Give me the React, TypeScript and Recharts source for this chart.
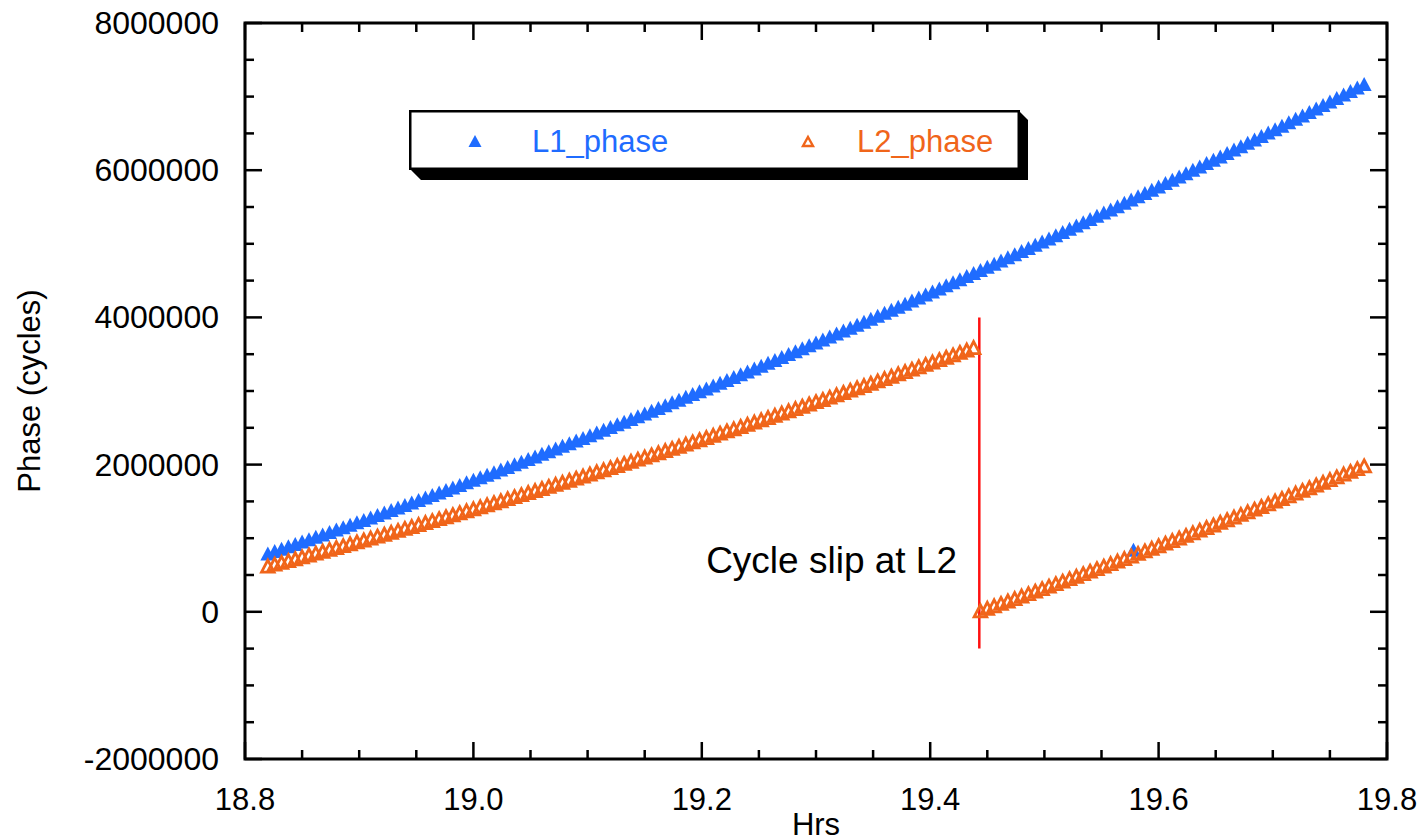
import React from 'react';
import {
  ScatterChart,
  Scatter,
  XAxis,
  YAxis,
  ReferenceLine,
  ReferenceArea,
  ReferenceDot,
  Legend,
} from 'recharts';

// time of each epoch (hours)
const hrs = [
  18.820, 18.826, 18.832, 18.838, 18.844, 18.850, 18.856, 18.862, 18.868, 18.874,
  18.880, 18.886, 18.892, 18.898, 18.904, 18.910, 18.916, 18.922, 18.928, 18.934,
  18.940, 18.946, 18.952, 18.958, 18.964, 18.970, 18.976, 18.982, 18.988, 18.994,
  19.000, 19.006, 19.012, 19.018, 19.024, 19.030, 19.036, 19.042, 19.048, 19.054,
  19.060, 19.066, 19.072, 19.078, 19.084, 19.090, 19.096, 19.102, 19.108, 19.114,
  19.120, 19.126, 19.132, 19.138, 19.144, 19.150, 19.156, 19.162, 19.168, 19.174,
  19.180, 19.186, 19.192, 19.198, 19.204, 19.210, 19.216, 19.222, 19.228, 19.234,
  19.240, 19.246, 19.252, 19.258, 19.264, 19.270, 19.276, 19.282, 19.288, 19.294,
  19.300, 19.306, 19.312, 19.318, 19.324, 19.330, 19.336, 19.342, 19.348, 19.354,
  19.360, 19.366, 19.372, 19.378, 19.384, 19.390, 19.396, 19.402, 19.408, 19.414,
  19.420, 19.426, 19.432, 19.438, 19.444, 19.450, 19.456, 19.462, 19.468, 19.474,
  19.480, 19.486, 19.492, 19.498, 19.504, 19.510, 19.516, 19.522, 19.528, 19.534,
  19.540, 19.546, 19.552, 19.558, 19.564, 19.570, 19.576, 19.582, 19.588, 19.594,
  19.600, 19.606, 19.612, 19.618, 19.624, 19.630, 19.636, 19.642, 19.648, 19.654,
  19.660, 19.666, 19.672, 19.678, 19.684, 19.690, 19.696, 19.702, 19.708, 19.714,
  19.720, 19.726, 19.732, 19.738, 19.744, 19.750, 19.756, 19.762, 19.768, 19.774,
  19.780,
];

// L1 carrier phase (cycles)
const l1Phase = [
  780000, 812000, 844000, 876000, 908000, 940000, 973000, 1005000, 1038000, 1070000,
  1103000, 1136000, 1169000, 1202000, 1235000, 1268000, 1302000, 1335000, 1369000, 1402000,
  1436000, 1470000, 1504000, 1538000, 1572000, 1607000, 1641000, 1675000, 1710000, 1745000,
  1779000, 1814000, 1849000, 1884000, 1919000, 1955000, 1990000, 2026000, 2061000, 2097000,
  2133000, 2169000, 2205000, 2241000, 2277000, 2313000, 2349000, 2386000, 2423000, 2459000,
  2496000, 2533000, 2570000, 2607000, 2644000, 2681000, 2719000, 2756000, 2794000, 2832000,
  2869000, 2907000, 2945000, 2983000, 3022000, 3060000, 3098000, 3137000, 3175000, 3214000,
  3253000, 3292000, 3331000, 3370000, 3409000, 3449000, 3488000, 3527000, 3567000, 3607000,
  3647000, 3686000, 3726000, 3767000, 3807000, 3847000, 3888000, 3928000, 3969000, 4009000,
  4050000, 4091000, 4132000, 4173000, 4215000, 4256000, 4297000, 4339000, 4380000, 4422000,
  4464000, 4506000, 4548000, 4590000, 4632000, 4675000, 4717000, 4760000, 4802000, 4845000,
  4888000, 4931000, 4974000, 5017000, 5060000, 5104000, 5147000, 5191000, 5234000, 5278000,
  5322000, 5366000, 5410000, 5454000, 5498000, 5543000, 5587000, 5632000, 5676000, 5721000,
  5766000, 5811000, 5856000, 5901000, 5946000, 5992000, 6037000, 6083000, 6128000, 6174000,
  6220000, 6266000, 6312000, 6358000, 6404000, 6451000, 6497000, 6544000, 6590000, 6637000,
  6684000, 6731000, 6778000, 6825000, 6872000, 6920000, 6967000, 7015000, 7063000, 7110000,
  7158000,
];

// L2 carrier phase (cycles), jumps at the slip
const l2Phase = [
  608000, 633000, 657000, 682000, 707000, 732000, 758000, 783000, 809000, 834000,
  859000, 885000, 911000, 936000, 962000, 988000, 1014000, 1040000, 1066000, 1092000,
  1119000, 1145000, 1172000, 1198000, 1225000, 1252000, 1278000, 1305000, 1332000, 1359000,
  1386000, 1413000, 1440000, 1468000, 1495000, 1523000, 1550000, 1578000, 1606000, 1634000,
  1662000, 1690000, 1718000, 1746000, 1774000, 1802000, 1830000, 1859000, 1888000, 1916000,
  1944000, 1973000, 2002000, 2031000, 2060000, 2088000, 2118000, 2147000, 2177000, 2206000,
  2235000, 2265000, 2294000, 2324000, 2354000, 2384000, 2413000, 2444000, 2473000, 2504000,
  2534000, 2564000, 2595000, 2625000, 2656000, 2687000, 2717000, 2748000, 2779000, 2810000,
  2841000, 2871000, 2903000, 2934000, 2966000, 2997000, 3029000, 3060000, 3092000, 3123000,
  3155000, 3187000, 3219000, 3251000, 3283000, 3315000, 3347000, 3380000, 3412000, 3445000,
  3477000, 3510000, 3543000, 3576000, 0, 34000, 67000, 100000, 133000, 166000,
  200000, 233000, 267000, 300000, 334000, 368000, 402000, 436000, 469000, 504000,
  538000, 572000, 606000, 641000, 675000, 710000, 744000, 779000, 814000, 849000,
  884000, 919000, 954000, 989000, 1024000, 1060000, 1095000, 1131000, 1166000, 1202000,
  1237000, 1273000, 1309000, 1345000, 1381000, 1417000, 1453000, 1490000, 1526000, 1562000,
  1599000, 1635000, 1672000, 1709000, 1745000, 1783000, 1819000, 1857000, 1894000, 1931000,
  1968000,
];

// stray L1 epoch
const l1GlitchHrs = [19.578];
const l1GlitchPhase = [830000];

const xTicks = [
  18.8, 18.85, 18.9, 18.95, 19.0, 19.05, 19.1, 19.15, 19.2, 19.25, 19.3,
  19.35, 19.4, 19.45, 19.5, 19.55, 19.6, 19.65, 19.7, 19.75, 19.8,
];
const yTicks = [
  -2000000, -1500000, -1000000, -500000, 0, 500000, 1000000, 1500000, 2000000,
  2500000, 3000000, 3500000, 4000000, 4500000, 5000000, 5500000, 6000000,
  6500000, 7000000, 7500000, 8000000,
];

const slipHrs = 19.443;
const slipFrom = -500000;
const slipTo = 4000000;
const noteHrs = 19.4235;
const notePhase = 700000;

const BLUE = '#1f6cff';
const ORANGE = '#f0651a';
const FONT = '"Liberation Sans", Arial, sans-serif';

const PLOT_TOP = 23;
const PLOT_RIGHT = 1387;

const l1Data = hrs
  .map((h, i) => ({ hrs: h, phase: l1Phase[i] }))
  .concat(l1GlitchHrs.map((h, i) => ({ hrs: h, phase: l1GlitchPhase[i] })));
const l2Data = hrs.map((h, i) => ({ hrs: h, phase: l2Phase[i] }));

const FilledTri = (p: any) => {
  const { cx, cy } = p;
  return (
    <path
      d={`M${cx},${cy - 8}L${cx + 7.5},${cy + 6}L${cx - 7.5},${cy + 6}Z`}
      fill={BLUE}
    />
  );
};

const OpenTri = (p: any) => {
  const { cx, cy } = p;
  return (
    <path
      d={`M${cx},${cy - 7}L${cx + 6.3},${cy + 5}L${cx - 6.3},${cy + 5}Z`}
      fill="none"
      stroke={ORANGE}
      strokeWidth={2.8}
    />
  );
};

function XTick(props: any) {
  const { x, y, payload } = props;
  const v = payload.value;
  const major = Math.abs(v * 5 - Math.round(v * 5)) < 1e-6;
  const len = major ? 17 : 9;
  return (
    <g>
      <line x1={x} x2={x} y1={y} y2={y - len} stroke="#000" strokeWidth={2.5} />
      <line x1={x} x2={x} y1={PLOT_TOP} y2={PLOT_TOP + len} stroke="#000" strokeWidth={2.5} />
      {major && (
        <text x={x} y={y + 51} textAnchor="middle" fontSize={31} fontFamily={FONT} fill="#000">
          {v.toFixed(1)}
        </text>
      )}
    </g>
  );
}

function YTick(props: any) {
  const { x, y, payload } = props;
  const v = payload.value;
  const major = v % 2000000 === 0;
  const len = major ? 17 : 9;
  return (
    <g>
      <line x1={x} x2={x + len} y1={y} y2={y} stroke="#000" strokeWidth={2.5} />
      <line x1={PLOT_RIGHT} x2={PLOT_RIGHT - len} y1={y} y2={y} stroke="#000" strokeWidth={2.5} />
      {major && (
        <text x={x - 26} y={y + 11} textAnchor="end" fontSize={32} fontFamily={FONT} fill="#000">
          {String(v)}
        </text>
      )}
    </g>
  );
}

function LegendBox() {
  return (
    <svg width={630} height={75} style={{ display: 'block', overflow: 'visible' }}>
      <polygon points="2,60 611,60 611,2 619,10 619,70 12,70" fill="#000" />
      <rect x={1.25} y={1.25} width={608.5} height={57.5} fill="#fff" stroke="#000" strokeWidth={2.5} />
      <path d="M66,25L72.5,37L59.5,37Z" fill={BLUE} />
      <text x={123} y={42} fontSize={31} fontFamily={FONT} fill={BLUE}>
        L1_phase
      </text>
      <path d="M399,27L404,36L394,36Z" fill="none" stroke={ORANGE} strokeWidth={2.4} />
      <text x={448} y={42} fontSize={31} fontFamily={FONT} fill={ORANGE}>
        L2_phase
      </text>
    </svg>
  );
}

export default function App() {
  return (
    <div style={{ position: 'absolute', left: 0, top: 0, width: 1424, height: 840, background: '#fff' }}>
      <ScatterChart width={1424} height={840} margin={{ top: 23, right: 37, bottom: 0, left: 0 }}>
        <XAxis
          dataKey="hrs"
          type="number"
          domain={[18.8, 19.8]}
          ticks={xTicks}
          interval={0}
          height={81}
          tickSize={0}
          tickMargin={0}
          axisLine={false}
          tickLine={false}
          tick={<XTick />}
          allowDataOverflow
          label={{
            value: 'Hrs',
            position: 'insideBottom',
            offset: 5,
            style: { fontSize: 31, fontFamily: FONT, fill: '#000' },
          }}
        />
        <YAxis
          dataKey="phase"
          type="number"
          domain={[-2000000, 8000000]}
          ticks={yTicks}
          interval={0}
          width={245}
          tickSize={0}
          tickMargin={0}
          axisLine={false}
          tickLine={false}
          tick={<YTick />}
          allowDataOverflow
          label={{
            value: 'Phase (cycles)',
            angle: -90,
            position: 'insideLeft',
            offset: 29,
            style: { textAnchor: 'middle', fontSize: 31, fontFamily: FONT, fill: '#000' },
          }}
        />
        <ReferenceArea
          x1={18.8}
          x2={19.8}
          y1={-2000000}
          y2={8000000}
          fill="none"
          stroke="#000"
          strokeWidth={3}
          fillOpacity={0}
        />
        <Legend
          layout="horizontal"
          verticalAlign="middle"
          align="center"
          wrapperStyle={{ left: 409, top: 110, width: 630, height: 75 }}
          content={() => <LegendBox />}
        />
        <Scatter name="L1_phase" data={l1Data} shape={FilledTri} isAnimationActive={false} />
        <Scatter name="L2_phase" data={l2Data} shape={OpenTri} isAnimationActive={false} />
        <ReferenceLine
          segment={[
            { x: slipHrs, y: slipFrom },
            { x: slipHrs, y: slipTo },
          ]}
          stroke="#ff1010"
          strokeWidth={2.5}
        />
        <ReferenceDot
          x={noteHrs}
          y={notePhase}
          r={0}
          fill="none"
          stroke="none"
          label={{
            value: 'Cycle slip at L2',
            position: 'left',
            offset: 0,
            style: { fontSize: 37, fontFamily: FONT, fill: '#000' },
          }}
        />
      </ScatterChart>
    </div>
  );
}
